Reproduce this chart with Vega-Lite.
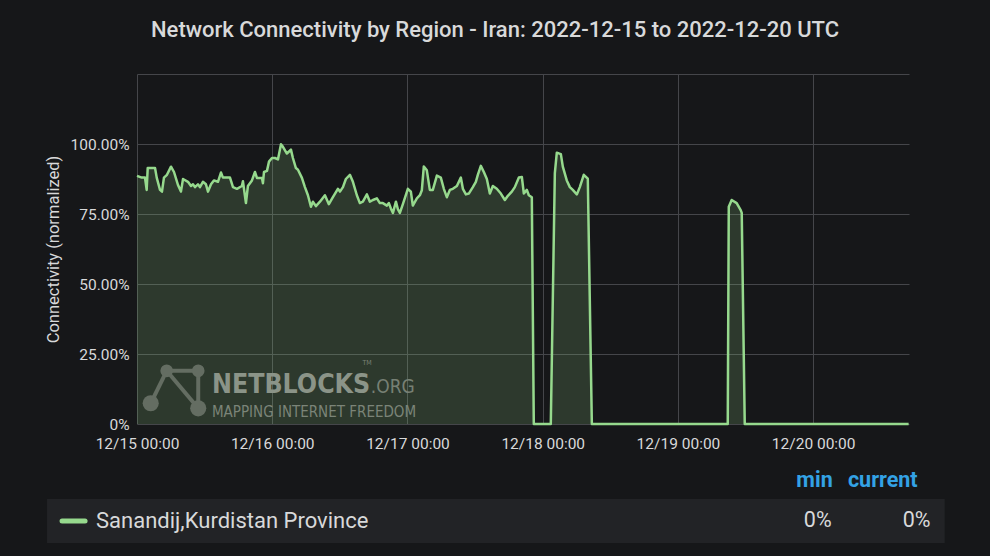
{
  "$schema": "https://vega.github.io/schema/vega-lite/v6.json",
  "autosize": {"type": "none"},
  "width": 772,
  "height": 350,
  "padding": {"left": 137, "top": 74, "right": 81, "bottom": 132},
  "background": "#161719",
  "title": {
    "text": "Network Connectivity by Region - Iran: 2022-12-15 to 2022-12-20 UTC",
    "font": "Roboto",
    "fontSize": 22,
    "fontWeight": 500,
    "color": "#d8d9da",
    "anchor": "middle",
    "dx": -28,
    "baseline": "alphabetic",
    "offset": 15
  },
  "config": {
    "view": {"stroke": null},
    "axis": {
      "labelFont": "Roboto",
      "labelFontSize": 15.5,
      "labelColor": "#d8d9da",
      "titleFont": "Roboto",
      "titleFontSize": 16.5,
      "titleFontWeight": "normal",
      "titleColor": "#d8d9da",
      "gridColor": "#45464a",
      "gridWidth": 1,
      "domain": false,
      "ticks": false
    }
  },
  "datasets": {
    "series": [
      {"t": "2022-12-15T00:00", "v": 0.886},
      {"t": "2022-12-15T00:50", "v": 0.88},
      {"t": "2022-12-15T01:25", "v": 0.88},
      {"t": "2022-12-15T01:43", "v": 0.836},
      {"t": "2022-12-15T01:54", "v": 0.914},
      {"t": "2022-12-15T03:12", "v": 0.914},
      {"t": "2022-12-15T03:30", "v": 0.88},
      {"t": "2022-12-15T04:05", "v": 0.836},
      {"t": "2022-12-15T04:26", "v": 0.83},
      {"t": "2022-12-15T04:47", "v": 0.88},
      {"t": "2022-12-15T05:19", "v": 0.89},
      {"t": "2022-12-15T06:02", "v": 0.919},
      {"t": "2022-12-15T06:34", "v": 0.90},
      {"t": "2022-12-15T07:16", "v": 0.854},
      {"t": "2022-12-15T07:48", "v": 0.83},
      {"t": "2022-12-15T08:10", "v": 0.875},
      {"t": "2022-12-15T09:03", "v": 0.865},
      {"t": "2022-12-15T09:35", "v": 0.85},
      {"t": "2022-12-15T09:56", "v": 0.856},
      {"t": "2022-12-15T10:17", "v": 0.846},
      {"t": "2022-12-15T10:49", "v": 0.856},
      {"t": "2022-12-15T11:10", "v": 0.846},
      {"t": "2022-12-15T11:42", "v": 0.865},
      {"t": "2022-12-15T12:14", "v": 0.856},
      {"t": "2022-12-15T12:36", "v": 0.83},
      {"t": "2022-12-15T13:08", "v": 0.856},
      {"t": "2022-12-15T13:39", "v": 0.87},
      {"t": "2022-12-15T14:22", "v": 0.865},
      {"t": "2022-12-15T14:54", "v": 0.898},
      {"t": "2022-12-15T15:15", "v": 0.88},
      {"t": "2022-12-15T16:30", "v": 0.88},
      {"t": "2022-12-15T17:02", "v": 0.846},
      {"t": "2022-12-15T17:44", "v": 0.84},
      {"t": "2022-12-15T18:37", "v": 0.85},
      {"t": "2022-12-15T18:48", "v": 0.867},
      {"t": "2022-12-15T19:20", "v": 0.789},
      {"t": "2022-12-15T19:41", "v": 0.85},
      {"t": "2022-12-15T20:24", "v": 0.87},
      {"t": "2022-12-15T20:56", "v": 0.90},
      {"t": "2022-12-15T21:17", "v": 0.879},
      {"t": "2022-12-15T22:10", "v": 0.879},
      {"t": "2022-12-15T22:21", "v": 0.86},
      {"t": "2022-12-15T22:32", "v": 0.90},
      {"t": "2022-12-15T23:04", "v": 0.904},
      {"t": "2022-12-15T23:25", "v": 0.937},
      {"t": "2022-12-15T23:57", "v": 0.95},
      {"t": "2022-12-16T00:29", "v": 0.95},
      {"t": "2022-12-16T01:01", "v": 0.945},
      {"t": "2022-12-16T01:33", "v": 0.999},
      {"t": "2022-12-16T01:54", "v": 0.99},
      {"t": "2022-12-16T02:36", "v": 0.966},
      {"t": "2022-12-16T03:19", "v": 0.98},
      {"t": "2022-12-16T03:40", "v": 0.95},
      {"t": "2022-12-16T04:12", "v": 0.914},
      {"t": "2022-12-16T04:34", "v": 0.908},
      {"t": "2022-12-16T05:16", "v": 0.879},
      {"t": "2022-12-16T05:48", "v": 0.846},
      {"t": "2022-12-16T06:20", "v": 0.817},
      {"t": "2022-12-16T06:52", "v": 0.776},
      {"t": "2022-12-16T07:13", "v": 0.794},
      {"t": "2022-12-16T07:45", "v": 0.778},
      {"t": "2022-12-16T08:28", "v": 0.794},
      {"t": "2022-12-16T09:21", "v": 0.817},
      {"t": "2022-12-16T10:03", "v": 0.785},
      {"t": "2022-12-16T10:46", "v": 0.81},
      {"t": "2022-12-16T11:39", "v": 0.84},
      {"t": "2022-12-16T12:01", "v": 0.83},
      {"t": "2022-12-16T12:33", "v": 0.846},
      {"t": "2022-12-16T13:04", "v": 0.875},
      {"t": "2022-12-16T13:47", "v": 0.89},
      {"t": "2022-12-16T14:19", "v": 0.865},
      {"t": "2022-12-16T15:01", "v": 0.817},
      {"t": "2022-12-16T15:33", "v": 0.789},
      {"t": "2022-12-16T16:05", "v": 0.794},
      {"t": "2022-12-16T16:48", "v": 0.82},
      {"t": "2022-12-16T17:20", "v": 0.794},
      {"t": "2022-12-16T17:52", "v": 0.80},
      {"t": "2022-12-16T18:34", "v": 0.806},
      {"t": "2022-12-16T19:06", "v": 0.789},
      {"t": "2022-12-16T19:38", "v": 0.789},
      {"t": "2022-12-16T20:21", "v": 0.78},
      {"t": "2022-12-16T20:42", "v": 0.789},
      {"t": "2022-12-16T21:03", "v": 0.77},
      {"t": "2022-12-16T21:25", "v": 0.754},
      {"t": "2022-12-16T21:57", "v": 0.794},
      {"t": "2022-12-16T22:18", "v": 0.767},
      {"t": "2022-12-16T22:39", "v": 0.754},
      {"t": "2022-12-16T23:11", "v": 0.785},
      {"t": "2022-12-17T00:04", "v": 0.84},
      {"t": "2022-12-17T00:36", "v": 0.83},
      {"t": "2022-12-17T00:57", "v": 0.78},
      {"t": "2022-12-17T01:40", "v": 0.806},
      {"t": "2022-12-17T02:12", "v": 0.817},
      {"t": "2022-12-17T02:33", "v": 0.835},
      {"t": "2022-12-17T02:54", "v": 0.92},
      {"t": "2022-12-17T03:26", "v": 0.906},
      {"t": "2022-12-17T03:58", "v": 0.836},
      {"t": "2022-12-17T04:30", "v": 0.836},
      {"t": "2022-12-17T05:13", "v": 0.887},
      {"t": "2022-12-17T05:55", "v": 0.88},
      {"t": "2022-12-17T06:27", "v": 0.84},
      {"t": "2022-12-17T06:59", "v": 0.81},
      {"t": "2022-12-17T07:31", "v": 0.836},
      {"t": "2022-12-17T08:03", "v": 0.84},
      {"t": "2022-12-17T08:46", "v": 0.85},
      {"t": "2022-12-17T09:28", "v": 0.88},
      {"t": "2022-12-17T09:50", "v": 0.84},
      {"t": "2022-12-17T10:22", "v": 0.82},
      {"t": "2022-12-17T10:53", "v": 0.823},
      {"t": "2022-12-17T11:36", "v": 0.846},
      {"t": "2022-12-17T12:08", "v": 0.865},
      {"t": "2022-12-17T12:29", "v": 0.89},
      {"t": "2022-12-17T13:01", "v": 0.922},
      {"t": "2022-12-17T13:33", "v": 0.90},
      {"t": "2022-12-17T14:05", "v": 0.875},
      {"t": "2022-12-17T14:37", "v": 0.823},
      {"t": "2022-12-17T15:09", "v": 0.85},
      {"t": "2022-12-17T15:51", "v": 0.84},
      {"t": "2022-12-17T16:34", "v": 0.823},
      {"t": "2022-12-17T17:17", "v": 0.80},
      {"t": "2022-12-17T17:49", "v": 0.815},
      {"t": "2022-12-17T18:31", "v": 0.83},
      {"t": "2022-12-17T19:03", "v": 0.846},
      {"t": "2022-12-17T19:46", "v": 0.88},
      {"t": "2022-12-17T20:18", "v": 0.882},
      {"t": "2022-12-17T20:39", "v": 0.823},
      {"t": "2022-12-17T21:11", "v": 0.836},
      {"t": "2022-12-17T21:32", "v": 0.817},
      {"t": "2022-12-17T22:04", "v": 0.81},
      {"t": "2022-12-17T22:25", "v": 0},
      {"t": "2022-12-18T01:26", "v": 0},
      {"t": "2022-12-18T02:09", "v": 0.896},
      {"t": "2022-12-18T02:30", "v": 0.969},
      {"t": "2022-12-18T03:13", "v": 0.964},
      {"t": "2022-12-18T03:34", "v": 0.919},
      {"t": "2022-12-18T04:16", "v": 0.87},
      {"t": "2022-12-18T04:49", "v": 0.846},
      {"t": "2022-12-18T05:20", "v": 0.836},
      {"t": "2022-12-18T06:03", "v": 0.82},
      {"t": "2022-12-18T06:35", "v": 0.846},
      {"t": "2022-12-18T07:17", "v": 0.89},
      {"t": "2022-12-18T08:00", "v": 0.876},
      {"t": "2022-12-18T08:43", "v": 0},
      {"t": "2022-12-19T08:50", "v": 0},
      {"t": "2022-12-19T09:01", "v": 0.776},
      {"t": "2022-12-19T09:32", "v": 0.80},
      {"t": "2022-12-19T10:25", "v": 0.789},
      {"t": "2022-12-19T11:08", "v": 0.764},
      {"t": "2022-12-19T11:19", "v": 0.754},
      {"t": "2022-12-19T11:51", "v": 0},
      {"t": "2022-12-20T16:56", "v": 0}
    ],
    "wm_links": [
      {"t": "2022-12-15T05:16", "v": 0.19, "t2": "2022-12-15T10:52", "v2": 0.19},
      {"t": "2022-12-15T05:16", "v": 0.19, "t2": "2022-12-15T10:52", "v2": 0.056},
      {"t": "2022-12-15T05:16", "v": 0.19, "t2": "2022-12-15T02:26", "v2": 0.074},
      {"t": "2022-12-15T10:52", "v": 0.19, "t2": "2022-12-15T10:52", "v2": 0.056}
    ],
    "wm_nodes": [
      {"t": "2022-12-15T05:16", "v": 0.19, "node": "small"},
      {"t": "2022-12-15T10:52", "v": 0.19, "node": "small"},
      {"t": "2022-12-15T02:26", "v": 0.074, "node": "big"},
      {"t": "2022-12-15T10:52", "v": 0.056, "node": "big"}
    ],
    "labels": [
      {"t": "2022-12-15T13:18", "v": 0.111, "label": "NETBLOCKS", "role": "brand"},
      {"t": "2022-12-16T17:30", "v": 0.111, "label": ".ORG", "role": "org"},
      {"t": "2022-12-16T16:00", "v": 0.21, "label": "TM", "role": "tm"},
      {"t": "2022-12-15T13:18", "v": 0.025, "label": "MAPPING INTERNET FREEDOM", "role": "motto"},
      {"t": "2022-12-14T16:44", "v": -0.3464, "label": "Sanandij,Kurdistan Province", "role": "name"},
      {"t": "2022-12-20T03:28", "v": -0.2036, "label": "min", "role": "head"},
      {"t": "2022-12-20T18:32", "v": -0.2036, "label": "current", "role": "head"},
      {"t": "2022-12-20T03:17", "v": -0.3464, "label": "0%", "role": "value"},
      {"t": "2022-12-20T20:50", "v": -0.3464, "label": "0%", "role": "value"}
    ],
    "legend_bg": [
      {"t": "2022-12-14T08:02", "t2": "2022-12-20T23:20", "v": -0.268, "v2": -0.425}
    ],
    "legend_key": [
      {"t": "2022-12-14T10:42", "t2": "2022-12-14T14:47", "v": -0.3464}
    ]
  },
  "layer": [
    {
      "data": {"name": "series"},
      "mark": {"type": "area", "color": "#96d98d", "opacity": 0.18},
      "encoding": {
        "x": {
          "field": "t", "type": "temporal",
          "scale": {"domain": [{"year": 2022, "month": 12, "date": 15, "hours": 0}, {"year": 2022, "month": 12, "date": 20, "hours": 17}], "nice": false},
          "axis": {"title": null, "format": "%m/%d %H:%M", "tickCount": {"interval": "day", "step": 1}, "labelPadding": 12, "labelFlush": false, "grid": true, "labelOverlap": false}
        },
        "y": {
          "field": "v", "type": "quantitative",
          "scale": {"domain": [0, 1.25], "nice": false, "zero": false},
          "axis": {"title": "Connectivity (normalized)", "values": [0, 0.25, 0.5, 0.75, 1, 1.25], "labelExpr": "datum.value == 0 ? '0%' : (datum.value > 1.1 ? '' : format(datum.value, '.2%'))", "labelPadding": 8, "titlePadding": 9, "grid": true}
        }
      }
    },
    {
      "data": {"name": "wm_links"},
      "mark": {"type": "rule", "color": "#646d62", "strokeWidth": 4},
      "encoding": {
        "x": {"field": "t", "type": "temporal"},
        "x2": {"field": "t2"},
        "y": {"field": "v", "type": "quantitative"},
        "y2": {"field": "v2"}
      }
    },
    {
      "data": {"name": "wm_nodes"},
      "transform": [{"filter": "datum.node == 'small'"}],
      "mark": {"type": "point", "shape": "circle", "filled": true, "color": "#646d62", "opacity": 1, "size": 160},
      "encoding": {
        "x": {"field": "t", "type": "temporal"},
        "y": {"field": "v", "type": "quantitative"}
      }
    },
    {
      "data": {"name": "wm_nodes"},
      "transform": [{"filter": "datum.node == 'big'"}],
      "mark": {"type": "point", "shape": "circle", "filled": true, "color": "#646d62", "opacity": 1, "size": 260},
      "encoding": {
        "x": {"field": "t", "type": "temporal"},
        "y": {"field": "v", "type": "quantitative"}
      }
    },
    {
      "data": {"name": "labels"},
      "transform": [{"filter": "datum.role == 'brand'"}],
      "mark": {"type": "text", "align": "left", "baseline": "alphabetic", "font": "'DejaVu Sans Condensed', Roboto, sans-serif", "fontWeight": "bold", "fontSize": 26.5, "color": "#8b9488"},
      "encoding": {
        "x": {"field": "t", "type": "temporal"},
        "y": {"field": "v", "type": "quantitative"},
        "text": {"field": "label"}
      }
    },
    {
      "data": {"name": "labels"},
      "transform": [{"filter": "datum.role == 'org'"}],
      "mark": {"type": "text", "align": "left", "baseline": "alphabetic", "font": "'DejaVu Sans Condensed', Roboto, sans-serif", "fontSize": 19, "color": "#778074"},
      "encoding": {
        "x": {"field": "t", "type": "temporal"},
        "y": {"field": "v", "type": "quantitative"},
        "text": {"field": "label"}
      }
    },
    {
      "data": {"name": "labels"},
      "transform": [{"filter": "datum.role == 'tm'"}],
      "mark": {"type": "text", "align": "left", "baseline": "alphabetic", "font": "'DejaVu Sans Condensed', Roboto, sans-serif", "fontSize": 7, "color": "#778074"},
      "encoding": {
        "x": {"field": "t", "type": "temporal"},
        "y": {"field": "v", "type": "quantitative"},
        "text": {"field": "label"}
      }
    },
    {
      "data": {"name": "labels"},
      "transform": [{"filter": "datum.role == 'motto'"}],
      "mark": {"type": "text", "align": "left", "baseline": "alphabetic", "font": "'DejaVu Sans Condensed', Roboto, sans-serif", "fontSize": 15, "color": "#7b8478"},
      "encoding": {
        "x": {"field": "t", "type": "temporal"},
        "y": {"field": "v", "type": "quantitative"},
        "text": {"field": "label"}
      }
    },
    {
      "data": {"name": "series"},
      "mark": {"type": "line", "color": "#96d98d", "strokeWidth": 2.5, "strokeJoin": "round"},
      "encoding": {
        "x": {"field": "t", "type": "temporal"},
        "y": {"field": "v", "type": "quantitative"}
      }
    },
    {
      "data": {"name": "legend_bg"},
      "mark": {"type": "rect", "color": "#222326"},
      "encoding": {
        "x": {"field": "t", "type": "temporal"},
        "x2": {"field": "t2"},
        "y": {"field": "v", "type": "quantitative"},
        "y2": {"field": "v2"}
      }
    },
    {
      "data": {"name": "legend_key"},
      "mark": {"type": "rule", "color": "#96d98d", "strokeWidth": 5, "strokeCap": "round"},
      "encoding": {
        "x": {"field": "t", "type": "temporal"},
        "x2": {"field": "t2"},
        "y": {"field": "v", "type": "quantitative"}
      }
    },
    {
      "data": {"name": "labels"},
      "transform": [{"filter": "datum.role == 'name'"}],
      "mark": {"type": "text", "align": "left", "baseline": "middle", "font": "Roboto", "fontSize": 22, "color": "#d8d9da"},
      "encoding": {
        "x": {"field": "t", "type": "temporal"},
        "y": {"field": "v", "type": "quantitative"},
        "text": {"field": "label"}
      }
    },
    {
      "data": {"name": "labels"},
      "transform": [{"filter": "datum.role == 'head'"}],
      "mark": {"type": "text", "align": "right", "baseline": "middle", "font": "Roboto", "fontSize": 21.5, "fontWeight": "bold", "color": "#33a2e5"},
      "encoding": {
        "x": {"field": "t", "type": "temporal"},
        "y": {"field": "v", "type": "quantitative"},
        "text": {"field": "label"}
      }
    },
    {
      "data": {"name": "labels"},
      "transform": [{"filter": "datum.role == 'value'"}],
      "mark": {"type": "text", "align": "right", "baseline": "middle", "font": "Roboto", "fontSize": 21.5, "color": "#d8d9da"},
      "encoding": {
        "x": {"field": "t", "type": "temporal"},
        "y": {"field": "v", "type": "quantitative"},
        "text": {"field": "label"}
      }
    }
  ]
}
